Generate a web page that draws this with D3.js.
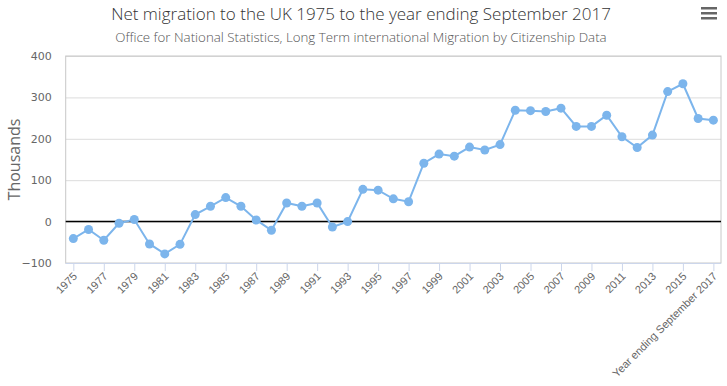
<!DOCTYPE html>
<html>
<head>
<meta charset="utf-8">
<script src="https://cdn.jsdelivr.net/npm/d3@7"></script>
<style>
  body { margin: 0; background: #fff; }
  svg { font-family: "Open Sans", "DejaVu Sans", sans-serif; }
</style>
</head>
<body>
<div id="chart"></div>
<script>
// categories and values (thousands)
var years = [];
for (var yr = 1975; yr <= 2016; yr++) years.push(String(yr));
years.push("Year ending September 2017");

var netMigration = [-41, -19, -45, -4, 5, -54, -78, -55, 17, 37,
    58, 37, 4, -21, 45, 37, 45, -13, 0, 78,
    76, 55, 48, 141, 163, 158, 180, 173, 186, 269,
    268, 266, 274, 230, 230, 257, 205, 179, 209, 314,
    333, 249, 245];

var yTicks = [-100, 0, 100, 200, 300, 400];

var width = 727, height = 386;
var margin = {left: 65.7, right: 6, top: 56, bottom: 123};

var svg = d3.select('#chart').append('svg')
    .attr('width', width)
    .attr('height', height);

var x = d3.scaleLinear()
    .domain([-0.5, years.length - 0.5])
    .range([margin.left, width - margin.right]);

var y = d3.scaleLinear()
    .domain([-100, 400])
    .range([height - margin.bottom, margin.top]);

// titles
svg.append('text')
    .attr('x', 361).attr('y', 20)
    .attr('text-anchor', 'middle')
    .style('font-size', '17px')
    .style('font-weight', 300)
    .style('fill', '#333')
    .text('Net migration to the UK 1975 to the year ending September 2017');

svg.append('text')
    .attr('x', 361).attr('y', 42)
    .attr('text-anchor', 'middle')
    .style('font-size', '13.3px')
    .style('font-weight', 300)
    .style('fill', '#555')
    .text('Office for National Statistics, Long Term international Migration by Citizenship Data');

// menu icon
[0, 1, 2].forEach(function(i) {
    svg.append('rect')
        .attr('x', 701).attr('y', 7 + i * 5)
        .attr('width', 16).attr('height', 2.5)
        .style('fill', '#666');
});

// gridlines
svg.append('g')
    .attr('transform', 'translate(' + margin.left + ',0)')
    .call(d3.axisLeft(y).tickValues(yTicks).tickSize(-(width - margin.left - margin.right)).tickFormat(''))
    .call(function(g) {
        g.select('.domain').remove();
        g.selectAll('line').style('stroke', '#dcdcdc');
    });

// plot border
svg.append('rect')
    .attr('x', margin.left).attr('y', margin.top)
    .attr('width', width - margin.left - margin.right)
    .attr('height', height - margin.top - margin.bottom)
    .style('fill', 'none')
    .style('stroke', '#c8c8c8');

// y axis labels
svg.append('g')
    .attr('transform', 'translate(' + margin.left + ',0)')
    .call(d3.axisLeft(y).tickValues(yTicks).tickSize(0).tickPadding(14))
    .call(function(g) {
        g.select('.domain').remove();
        g.selectAll('text').style('fill', '#666').style('font-size', '11px')
            .style('font-family', '"DejaVu Sans", sans-serif');
    });

svg.append('text')
    .attr('transform', 'translate(20,' + y(150) + ') rotate(-90)')
    .attr('text-anchor', 'middle')
    .style('font-size', '16px')
    .style('fill', '#666')
    .text('Thousands');

// x axis
var xTickIdx = d3.range(0, years.length, 2);
var xAxis = svg.append('g')
    .attr('transform', 'translate(0,' + y(-100) + ')')
    .call(d3.axisBottom(x).tickValues(xTickIdx).tickSize(8)
        .tickFormat(function(i) { return years[i]; }));
xAxis.select('.domain').style('stroke', '#ccd6eb').attr('d', 'M' + margin.left + ',0.5H' + (width - margin.right));
xAxis.selectAll('line').style('stroke', '#ccd6eb');
xAxis.selectAll('text')
    .style('fill', '#666')
    .style('font-size', '11px')
    .attr('text-anchor', 'end')
    .attr('dy', null)
    .attr('y', 0)
    .attr('transform', 'translate(4,14) rotate(-45)');

// zero line
svg.append('line')
    .attr('x1', margin.left).attr('x2', width - margin.right)
    .attr('y1', y(0)).attr('y2', y(0))
    .style('stroke', '#000')
    .style('stroke-width', 1.5);

// series
var line = d3.line()
    .x(function(d, i) { return x(i); })
    .y(function(d) { return y(d); });

svg.append('path')
    .datum(netMigration)
    .attr('d', line)
    .style('fill', 'none')
    .style('stroke', '#7cb5ec')
    .style('stroke-width', 2);

svg.selectAll('.dot')
    .data(netMigration)
    .enter().append('circle')
    .attr('class', 'dot')
    .attr('cx', function(d, i) { return x(i); })
    .attr('cy', function(d) { return y(d); })
    .attr('r', 4.5)
    .style('fill', '#7cb5ec');
</script>
</body>
</html>
